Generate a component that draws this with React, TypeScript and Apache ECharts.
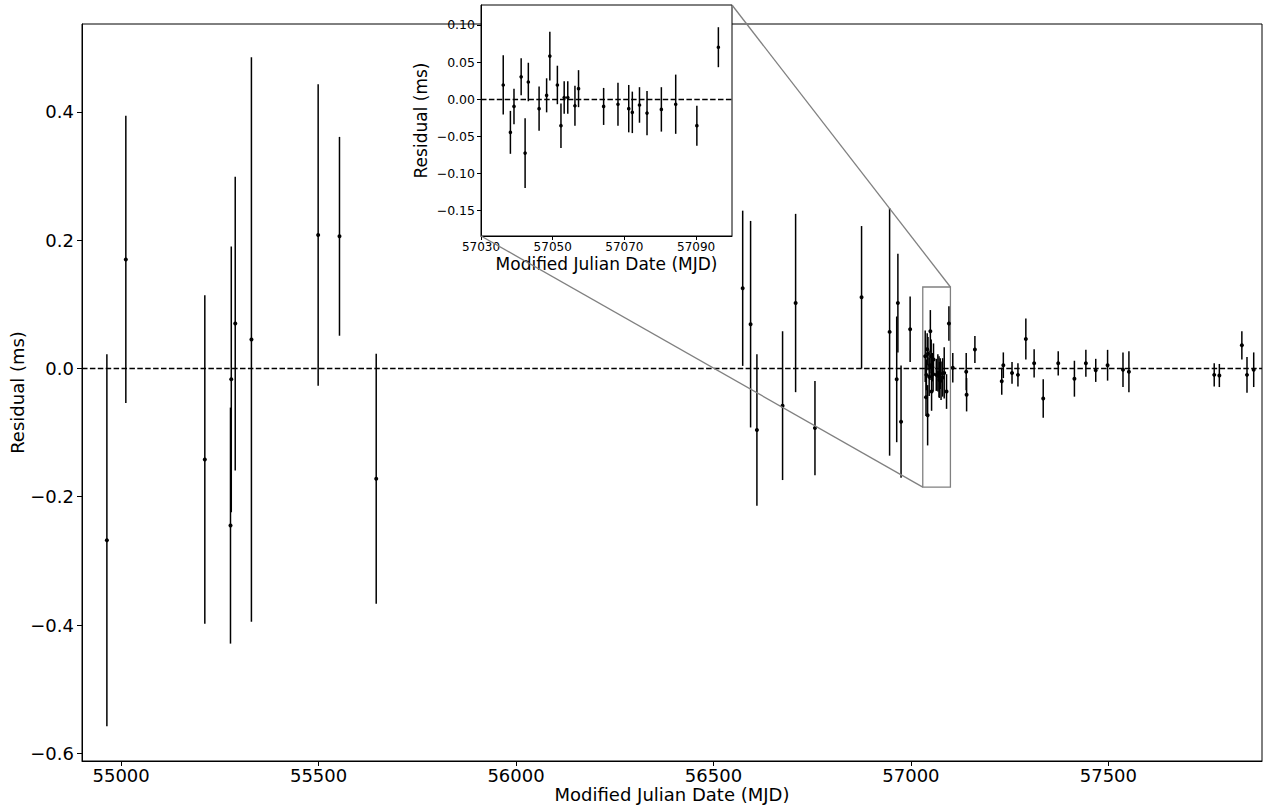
import React, { useEffect, useRef } from "react";
import * as echarts from "echarts";

// ---- Data ----
// Points outside the zoomed window (MJD, residual ms, 1-sigma error ms)
const outerMjd = [
  54964, 55012, 55212, 55279, 55277, 55289, 55330, 55499, 55553, 55646,
  56574, 56594, 56610, 56675, 56708, 56757, 56875, 56946, 56964, 56967, 56975, 56998,
  57106, 57140, 57141, 57162, 57230, 57234, 57256, 57271, 57291, 57312, 57335, 57373,
  57414, 57443, 57468, 57498, 57537, 57552, 57768, 57781, 57838, 57851, 57868,
];
const outerResidual = [
  -0.268, 0.17, -0.142, -0.017, -0.245, 0.07, 0.045, 0.208, 0.206, -0.172,
  0.125, 0.069, -0.096, -0.058, 0.102, -0.093, 0.111, 0.057, -0.017, 0.102, -0.083, 0.061,
  0.001, -0.005, -0.041, 0.0295, -0.02, 0.005, -0.007, -0.01, 0.046, 0.008, -0.047, 0.008,
  -0.016, 0.008, -0.003, 0.005, -0.002, -0.005, -0.01, -0.011, 0.036, -0.01, -0.002,
];
const outerError = [
  0.29, 0.224, 0.256, 0.207, 0.184, 0.229, 0.44, 0.235, 0.155, 0.195,
  0.121, 0.161, 0.118, 0.116, 0.139, 0.0735, 0.111, 0.193, 0.098, 0.077, 0.0875, 0.051,
  0.023, 0.029, 0.026, 0.021, 0.021, 0.02, 0.017, 0.018, 0.032, 0.022, 0.03, 0.019,
  0.028, 0.021, 0.018, 0.024, 0.027, 0.032, 0.018, 0.018, 0.022, 0.028, 0.027,
];

// Points inside the zoomed window (shown in both panels)
const insetMjd = [
  57036.2, 57038.2, 57039.2, 57041.2, 57042.3, 57043.2, 57046.2, 57048.3, 57049.2,
  57051.3, 57052.3, 57053.2, 57054.2, 57056.2, 57057.2, 57064.2, 57068.2, 57071.2,
  57072.2, 57074.2, 57076.3, 57080.3, 57084.3, 57090.2, 57096.2,
];
const insetResidual = [
  0.019, -0.045, -0.01, 0.03, -0.073, 0.023, -0.013, 0.005, 0.058,
  0.019, -0.036, 0.002, 0.002, -0.009, 0.014, -0.01, -0.007, -0.013,
  -0.018, -0.008, -0.019, -0.014, -0.007, -0.036, 0.07,
];
const insetError = [
  0.04, 0.029, 0.024, 0.025, 0.047, 0.026, 0.03, 0.023, 0.033,
  0.026, 0.03, 0.022, 0.022, 0.027, 0.025, 0.025, 0.029, 0.032,
  0.028, 0.024, 0.03, 0.03, 0.04, 0.027, 0.027,
];

// Axis ranges and tick labels
const mainXRange = [54901, 57889];
const mainYRange = [-0.612, 0.537];
const mainXTicks = [55000, 55500, 56000, 56500, 57000, 57500];
const mainYTicks = [-0.6, -0.4, -0.2, 0, 0.2, 0.4];
const insetXRange = [57030, 57100];
const insetYRange = [-0.185, 0.127];
const insetXTicks = [57030, 57050, 57070, 57090];
const insetYTicks = [-0.15, -0.1, -0.05, 0, 0.05, 0.1];

const xTitle = "Modified Julian Date (MJD)";
const yTitle = "Residual (ms)";

const FONT = "DejaVu Sans";
const minus = (s: string) => s.replace("-", "\u2212");

function errorBarRenderer(radius: number) {
  return (params: any, api: any) => {
    const x = api.value(0);
    const y = api.value(1);
    const e = api.value(2);
    const top = api.coord([x, y + e]);
    const bot = api.coord([x, y - e]);
    const c = api.coord([x, y]);
    return {
      type: "group",
      children: [
        {
          type: "line",
          shape: { x1: top[0], y1: top[1], x2: bot[0], y2: bot[1] },
          style: { stroke: "#000", lineWidth: 1.5 },
        },
        {
          type: "circle",
          shape: { cx: c[0], cy: c[1], r: radius },
          style: { fill: "#000" },
        },
      ],
    };
  };
}

export default function App() {
  const ref = useRef<HTMLDivElement>(null);

  useEffect(() => {
    if (!ref.current) return;
    const chart = echarts.init(ref.current, null, { renderer: "svg" });

    const mainData = outerMjd
      .map((m, i) => [m, outerResidual[i], outerError[i]])
      .concat(insetMjd.map((m, i) => [m, insetResidual[i], insetError[i]]));
    const insetData = insetMjd.map((m, i) => [m, insetResidual[i], insetError[i]]);

    const zeroLine = (z: number) => ({
      silent: true,
      symbol: "none",
      label: { show: false },
      lineStyle: { type: [5.5, 2.4], color: "#000", width: 1.3 },
      data: [{ yAxis: 0 }],
      z,
    });

    const axisCommon = {
      axisLine: { show: true, onZero: false, lineStyle: { color: "#000", width: 1 } },
      splitLine: { show: false },
      nameMoveOverlap: false,
    };

    chart.setOption({
      animation: false,
      backgroundColor: "#fff",
      textStyle: { fontFamily: FONT },
      grid: [
        {
          left: 82, top: 24, width: 1180, height: 737,
          outerBoundsMode: "none", containLabel: false,
          show: true, borderColor: "#000", borderWidth: 1, z: 0,
        },
        {
          left: 481, top: 5, width: 251, height: 231,
          outerBoundsMode: "none", containLabel: false,
          show: true, borderColor: "#000", borderWidth: 1,
          backgroundColor: "#fff", z: 5,
        },
      ],
      xAxis: [
        {
          ...axisCommon,
          type: "value", gridIndex: 0,
          min: mainXRange[0], max: mainXRange[1],
          axisTick: { show: true, length: 5, customValues: mainXTicks, lineStyle: { color: "#000" } },
          axisLabel: {
            customValues: mainXTicks, fontSize: 18, color: "#000", fontFamily: FONT, margin: 5,
            formatter: (v: number) => String(Math.round(v)),
          },
          name: xTitle, nameLocation: "middle", nameGap: 24,
          nameTextStyle: { fontSize: 18, color: "#000", fontFamily: FONT },
        },
        {
          ...axisCommon,
          type: "value", gridIndex: 1, z: 6,
          min: insetXRange[0], max: insetXRange[1],
          axisTick: { show: true, length: 4, customValues: insetXTicks, lineStyle: { color: "#000" } },
          axisLabel: {
            customValues: insetXTicks, fontSize: 12, color: "#000", fontFamily: FONT, margin: 5,
            formatter: (v: number) => String(Math.round(v)),
          },
          name: xTitle, nameLocation: "middle", nameGap: 19,
          nameTextStyle: { fontSize: 17, color: "#000", fontFamily: FONT },
        },
      ],
      yAxis: [
        {
          ...axisCommon,
          type: "value", gridIndex: 0,
          min: mainYRange[0], max: mainYRange[1],
          axisTick: { show: true, length: 5, customValues: mainYTicks, lineStyle: { color: "#000" } },
          axisLabel: {
            customValues: mainYTicks, fontSize: 18, color: "#000", fontFamily: FONT, margin: 8,
            formatter: (v: number) => minus(v.toFixed(1)),
          },
          name: yTitle, nameLocation: "middle", nameGap: 56, nameRotate: 90,
          nameTextStyle: { fontSize: 18, color: "#000", fontFamily: FONT },
        },
        {
          ...axisCommon,
          type: "value", gridIndex: 1, z: 6,
          min: insetYRange[0], max: insetYRange[1],
          axisTick: { show: true, length: 4, customValues: insetYTicks, lineStyle: { color: "#000" } },
          axisLabel: {
            customValues: insetYTicks, fontSize: 12.5, color: "#000", fontFamily: FONT, margin: 6,
            formatter: (v: number) => minus(v.toFixed(2)),
          },
          name: yTitle, nameLocation: "middle", nameGap: 52, nameRotate: 90,
          nameTextStyle: { fontSize: 17, color: "#000", fontFamily: FONT },
        },
      ],
      series: [
        {
          type: "custom",
          xAxisIndex: 0, yAxisIndex: 0, z: 2,
          renderItem: errorBarRenderer(2),
          encode: { x: 0, y: 1 },
          data: mainData,
          silent: true,
        },
        {
          type: "line",
          xAxisIndex: 0, yAxisIndex: 0, z: 1,
          data: [],
          symbol: "none",
          markLine: zeroLine(1),
          markArea: {
            silent: true,
            itemStyle: { color: "rgba(0,0,0,0)", borderColor: "#808080", borderWidth: 1.3 },
            data: [[{ coord: [insetXRange[0], insetYRange[0]] }, { coord: [insetXRange[1], insetYRange[1]] }]],
          },
        },
        {
          type: "custom",
          xAxisIndex: 1, yAxisIndex: 1, z: 8,
          renderItem: errorBarRenderer(1.8),
          encode: { x: 0, y: 1 },
          data: insetData,
          clip: true,
          silent: true,
        },
        {
          type: "line",
          xAxisIndex: 1, yAxisIndex: 1, z: 7,
          data: [],
          symbol: "none",
          markLine: zeroLine(7),
        },
      ],
    });

    // Connector lines between the zoom box and the inset corners
    const a1 = chart.convertToPixel({ gridIndex: 0 }, [insetXRange[1], insetYRange[1]]) as number[];
    const b1 = chart.convertToPixel({ gridIndex: 1 }, [insetXRange[1], insetYRange[1]]) as number[];
    const a2 = chart.convertToPixel({ gridIndex: 0 }, [insetXRange[0], insetYRange[0]]) as number[];
    const b2 = chart.convertToPixel({ gridIndex: 1 }, [insetXRange[0], insetYRange[0]]) as number[];
    chart.setOption({
      graphic: [
        {
          type: "line", z: 10, silent: true,
          shape: { x1: a1[0], y1: a1[1], x2: b1[0], y2: b1[1] },
          style: { stroke: "#808080", lineWidth: 1.3 },
        },
        {
          type: "line", z: 10, silent: true,
          shape: { x1: a2[0], y1: a2[1], x2: b2[0], y2: b2[1] },
          style: { stroke: "#808080", lineWidth: 1.3 },
        },
      ],
    });

    return () => chart.dispose();
  }, []);

  return (
    <div
      ref={ref}
      style={{ position: "absolute", left: 0, top: 0, width: 1268, height: 809, background: "#fff" }}
    />
  );
}
